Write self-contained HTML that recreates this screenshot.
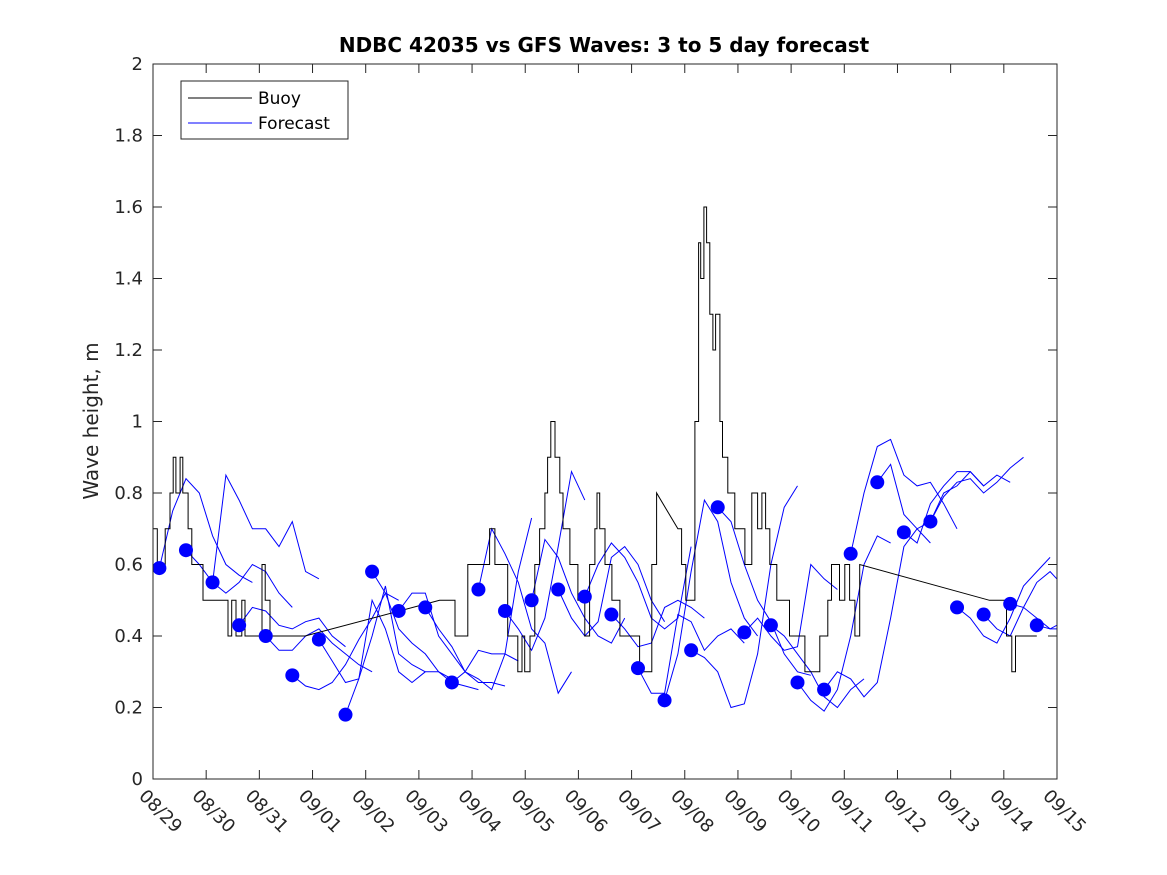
<!DOCTYPE html>
<html><head><meta charset="utf-8"><style>
html,body{margin:0;padding:0;background:#fff;}
svg{display:block;font-family:"DejaVu Sans","Liberation Sans",sans-serif;}
</style></head><body>
<svg id="chart" width="1167" height="875" viewBox="0 0 1167 875">
<defs><clipPath id="pc"><rect x="153" y="64" width="904" height="715"/></clipPath></defs>
<rect x="0" y="0" width="1167" height="875" fill="#fff"/>
<rect x="153" y="64" width="904" height="715" fill="#fff" stroke="none"/>
<g id="ticks"></g>
<g id="series" clip-path="url(#pc)"></g>
<rect x="153" y="64" width="904" height="715" fill="none" stroke="#262626" stroke-width="1"/>
<text x="604" y="52" text-anchor="middle" font-size="20" font-weight="bold" fill="#000">NDBC 42035 vs GFS Waves: 3 to 5 day forecast</text>
<text transform="translate(98,421) rotate(-90)" text-anchor="middle" font-size="20" fill="#262626">Wave height, m</text>
<g>
<rect x="181" y="81" width="167" height="58" fill="#fff" stroke="#262626" stroke-width="1"/>
<line x1="188" y1="98" x2="252" y2="98" stroke="#000" stroke-width="1"/>
<text x="258" y="104" font-size="17" fill="#000">Buoy</text>
<line x1="188" y1="123" x2="252" y2="123" stroke="#0000ff" stroke-width="1"/>
<text x="258" y="129" font-size="17" fill="#000">Forecast</text>
</g>
</svg>
<script>
const xTickLabels = ["08/29","08/30","08/31","09/01","09/02","09/03","09/04","09/05","09/06","09/07","09/08","09/09","09/10","09/11","09/12","09/13","09/14","09/15"];
const yTickValues = [0,0.2,0.4,0.6,0.8,1,1.2,1.4,1.6,1.8,2];
const yTickLabels = ["0","0.2","0.4","0.6","0.8","1","1.2","1.4","1.6","1.8","2"];
const buoyDays = [0.00,0.08,0.23,0.32,0.38,0.43,0.51,0.56,0.66,0.73,0.85,0.94,1.26,1.41,1.48,1.56,1.67,1.73,1.97,2.05,2.11,2.20,2.86,5.39,5.62,5.68,5.86,5.92,6.24,6.33,6.43,6.56,6.67,6.80,6.86,6.94,6.99,7.09,7.18,7.27,7.37,7.42,7.48,7.56,7.65,7.71,7.84,7.99,8.12,8.21,8.31,8.35,8.40,8.50,8.63,8.78,8.97,9.15,9.25,9.38,9.47,9.87,9.94,10.02,10.09,10.19,10.26,10.30,10.36,10.41,10.47,10.53,10.58,10.66,10.71,10.81,10.94,11.07,11.13,11.26,11.37,11.45,11.52,11.60,11.73,11.88,11.97,12.16,12.26,12.44,12.54,12.69,12.76,12.88,12.91,13.01,13.10,13.20,13.29,15.73,16.02,16.05,16.15,16.22,16.62];
const buoyValues = [0.7,0.6,0.7,0.8,0.9,0.8,0.9,0.8,0.7,0.6,0.6,0.5,0.5,0.4,0.5,0.4,0.5,0.4,0.4,0.6,0.5,0.4,0.4,0.5,0.5,0.4,0.4,0.6,0.6,0.7,0.6,0.6,0.4,0.4,0.3,0.4,0.3,0.4,0.6,0.7,0.8,0.9,1.0,0.9,0.8,0.7,0.6,0.5,0.4,0.6,0.7,0.8,0.7,0.6,0.5,0.4,0.4,0.3,0.3,0.6,0.8,0.7,0.6,0.5,0.5,1.0,1.5,1.4,1.6,1.5,1.3,1.2,1.3,1.0,0.9,0.8,0.7,0.7,0.6,0.8,0.7,0.8,0.7,0.6,0.5,0.5,0.4,0.4,0.3,0.3,0.4,0.5,0.6,0.6,0.5,0.6,0.5,0.4,0.6,0.5,0.5,0.4,0.3,0.4,0.4];
const forecastStartDay = 0.12;
const forecastInterval = 0.5;
const forecastStep = 0.25;
const forecastRuns = [
[0.59,0.75,0.84,0.80,0.68,0.60,0.57,0.55],
[0.64,0.60,0.55,0.52,0.55,0.60,0.58,0.52,0.48],
[0.55,0.85,0.78,0.70,0.70,0.65,0.72,0.58,0.56],
[0.43,0.48,0.47,0.43,0.42,0.44,0.45,0.40,0.37],
[0.40,0.36,0.36,0.40,0.42,0.38,0.35,0.32,0.30],
[0.29,0.26,0.25,0.27,0.32,0.39,0.45,0.52,0.50],
[0.39,0.33,0.27,0.28,0.40,0.54,0.35,0.32,0.30],
[0.18,0.28,0.50,0.42,0.30,0.27,0.30,0.30,0.28],
[0.58,0.52,0.42,0.38,0.35,0.30,0.27,0.26,0.25],
[0.47,0.52,0.52,0.40,0.35,0.30,0.27,0.27,0.26],
[0.48,0.42,0.37,0.30,0.28,0.25,0.35,0.58,0.73],
[0.27,0.30,0.36,0.35,0.35,0.33],
[0.53,0.70,0.63,0.55,0.42,0.38,0.24,0.30],
[0.47,0.42,0.36,0.45,0.65,0.86,0.78],
[0.50,0.67,0.62,0.52,0.45,0.40,0.38,0.45],
[0.53,0.45,0.40,0.44,0.62,0.65,0.60,0.50,0.44],
[0.51,0.60,0.66,0.62,0.55,0.45,0.42,0.45,0.65],
[0.46,0.42,0.37,0.38,0.48,0.50,0.48,0.45],
[0.31,0.24,0.24,0.46,0.44,0.36,0.40,0.42,0.38],
[0.22,0.35,0.58,0.78,0.72,0.55,0.45,0.40],
[0.36,0.34,0.30,0.20,0.21,0.35,0.60,0.76,0.82],
[0.76,0.72,0.60,0.50,0.44,0.35,0.30,0.29],
[0.41,0.45,0.40,0.36,0.37,0.60,0.56,0.53],
[0.43,0.40,0.35,0.30,0.23,0.20,0.25,0.28],
[0.27,0.22,0.19,0.25,0.40,0.60,0.68,0.66],
[0.25,0.30,0.28,0.23,0.27,0.45,0.65,0.70,0.66],
[0.63,0.80,0.93,0.95,0.85,0.82,0.83,0.77,0.70],
[0.83,0.88,0.74,0.70,0.72,0.80,0.82,0.86,0.82],
[0.69,0.66,0.77,0.82,0.86,0.86,0.82,0.85,0.83],
[0.72,0.79,0.83,0.84,0.80,0.83,0.87,0.90],
[0.48,0.45,0.40,0.38,0.45,0.54,0.58,0.62],
[0.46,0.42,0.40,0.48,0.55,0.58,0.54,0.54,0.60],
[0.49,0.48,0.45,0.42,0.42,0.43],
[0.43,0.42,0.44,0.46]
];
const observedDots = [0.59,0.64,0.55,0.43,0.40,0.29,0.39,0.18,0.58,0.47,0.48,0.27,0.53,0.47,0.50,0.53,0.51,0.46,0.31,0.22,0.36,0.76,0.41,0.43,0.27,0.25,0.63,0.83,0.69,0.72,0.48,0.46,0.49,0.43];

const NS="http://www.w3.org/2000/svg";
const X0=153, X1=1057, Y0=779, Y1=64, DAYS=17, YMAX=2;
function xs(d){return X0+(X1-X0)*d/DAYS;}
function ys(v){return Y0-(Y0-Y1)*v/YMAX;}
const ticks=document.getElementById('ticks');
const series=document.getElementById('series');
function mk(tag,attrs,parent){const e=document.createElementNS(NS,tag);for(const k in attrs)e.setAttribute(k,attrs[k]);parent.appendChild(e);return e;}

xTickLabels.forEach((lab,i)=>{
  const x=xs(i);
  if(i>0&&i<DAYS){
    const t1=mk('line',{x1:x,y1:Y0,x2:x,y2:Y0-9,stroke:'#262626'},ticks);
    
    
    const t2=mk('line',{x1:x,y1:Y1,x2:x,y2:Y1+9,stroke:'#262626'},ticks);
    
    
  }
  const t=mk('text',{transform:`translate(${x-15},${Y0+18}) rotate(45)`,'font-size':18,fill:'#262626'},ticks);
  t.textContent=lab;
  
  
});
yTickValues.forEach((v,i)=>{
  const y=ys(v);
  if(i>0&&i<yTickValues.length-1){
    const t1=mk('line',{x1:X0,y1:y,x2:X0+9,y2:y,stroke:'#262626'},ticks);
    
    
    const t2=mk('line',{x1:X1,y1:y,x2:X1-9,y2:y,stroke:'#262626'},ticks);
    
    
  }
  const t=mk('text',{x:X0-10,y:y+6,'text-anchor':'end','font-size':18,fill:'#262626'},ticks);
  t.textContent=yTickLabels[i];
  
  
});

forecastRuns.forEach((run,i)=>{
  const d0=forecastStartDay+forecastInterval*i;
  const pts=run.map((v,j)=>xs(d0+forecastStep*j).toFixed(1)+','+ys(v).toFixed(1)).join(' ');
  const p=mk('polyline',{points:pts,fill:'none',stroke:'#0000ff','stroke-width':1},series);
  
  
});

let d='M'+xs(buoyDays[0]).toFixed(1)+','+ys(buoyValues[0]).toFixed(1);
for(let i=1;i<buoyDays.length;i++){
  const x=xs(buoyDays[i]).toFixed(1), y=ys(buoyValues[i]).toFixed(1);
  if(buoyDays[i]-buoyDays[i-1]>0.35){ d+=' L'+x+','+y; }
  else { d+=' L'+x+','+ys(buoyValues[i-1]).toFixed(1)+' L'+x+','+y; }
}
const bp=mk('path',{d:d,fill:'none',stroke:'#000','stroke-width':1},series);



observedDots.forEach((v,i)=>{
  const c=mk('circle',{cx:xs(forecastStartDay+forecastInterval*i),cy:ys(v),r:7,fill:'#0000ff'},series);
  
  
});
</script>
</body></html>
